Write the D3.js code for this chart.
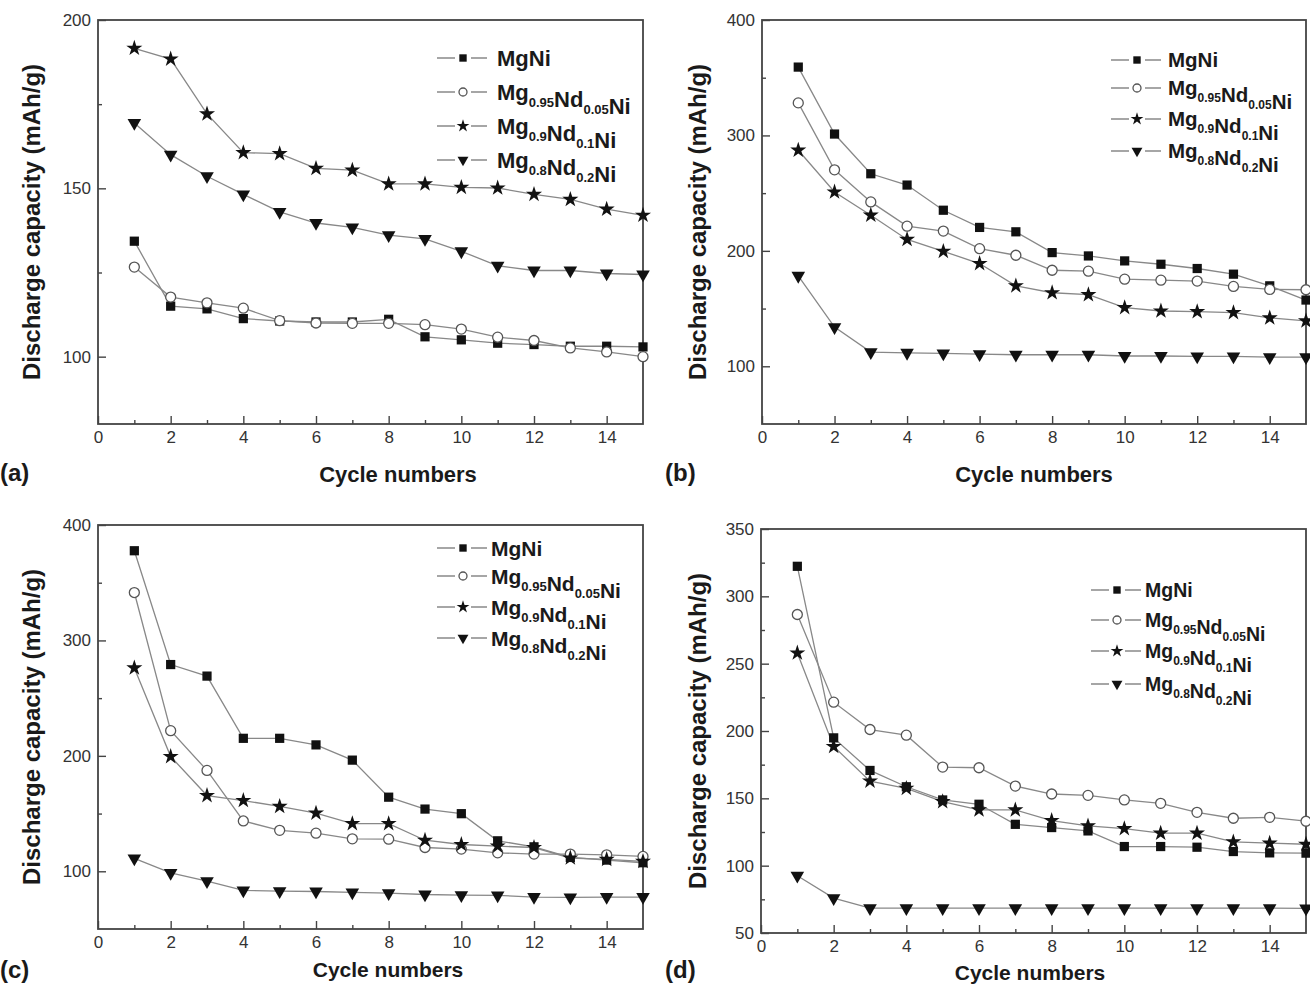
<!DOCTYPE html>
<html>
<head>
<meta charset="utf-8">
<script src="https://cdn.jsdelivr.net/npm/d3@7"></script>
<style>
  body { margin: 0; background: #fff; }
  svg { display: block; font-family: "Liberation Sans", Arial, sans-serif; }
</style>
</head>
<body>
<script>
// cycle number on x
var cycles = [1, 2, 3, 4, 5, 6, 7, 8, 9, 10, 11, 12, 13, 14, 15];
var xTicks = [0, 2, 4, 6, 8, 10, 12, 14];
var xMinor = [1, 3, 5, 7, 9, 11, 13];

// legend labels: [main, sub] parts
var seriesLabels = [
  [["MgNi", ""]],
  [["Mg", "0.95"], ["Nd", "0.05"], ["Ni", ""]],
  [["Mg", "0.9"], ["Nd", "0.1"], ["Ni", ""]],
  [["Mg", "0.8"], ["Nd", "0.2"], ["Ni", ""]]
];
var seriesSymbols = ["square", "circle", "star", "triangle"];

// (a)
var aMgNi = [134.3, 115.0, 114.2, 111.3, 110.6, 110.3, 110.3, 111.1, 105.9, 105.0, 104.0, 103.6, 103.1, 103.1, 102.9];
var aNd005 = [126.6, 117.7, 116.0, 114.4, 110.7, 110.0, 109.9, 109.9, 109.5, 108.2, 105.8, 104.8, 102.6, 101.4, 100.0];
var aNd01 = [191.6, 188.4, 172.1, 160.6, 160.3, 155.9, 155.4, 151.3, 151.3, 150.3, 150.1, 148.2, 146.7, 143.8, 142.0];
var aNd02 = [169.4, 160.0, 153.6, 148.2, 143.0, 139.7, 138.4, 136.1, 135.0, 131.3, 127.0, 125.6, 125.6, 124.7, 124.4];

// (b)
var bMgNi = [359.2, 301.2, 266.8, 257.0, 235.2, 220.3, 216.5, 198.5, 195.6, 191.3, 188.4, 184.7, 179.8, 169.7, 157.4];
var bNd005 = [328.2, 270.2, 242.4, 221.4, 217.1, 201.9, 196.2, 183.2, 182.4, 175.5, 174.6, 173.8, 169.2, 166.6, 166.3];
var bNd01 = [287.2, 251.0, 230.9, 209.9, 199.6, 189.0, 169.7, 163.7, 162.0, 150.8, 147.9, 147.3, 146.5, 141.9, 139.3];
var bNd02 = [178.4, 133.9, 112.3, 111.7, 111.2, 110.6, 110.0, 110.0, 110.0, 108.9, 108.9, 108.6, 108.6, 108.0, 108.0];

// (c)
var cMgNi = [377.7, 279.1, 269.1, 215.2, 215.2, 209.5, 196.3, 164.2, 153.9, 149.9, 126.4, 121.2, 112.0, 109.7, 107.4];
var cNd005 = [341.5, 221.8, 187.4, 143.6, 135.5, 133.0, 128.1, 127.8, 120.6, 119.2, 116.0, 114.9, 114.9, 114.3, 112.9];
var cNd01 = [276.2, 199.4, 165.6, 161.3, 156.2, 150.4, 141.3, 141.3, 126.9, 123.2, 121.8, 120.6, 111.5, 110.3, 108.6];
var cNd02 = [111.2, 98.6, 91.4, 83.4, 82.8, 82.5, 81.7, 81.1, 79.9, 79.4, 79.1, 77.7, 77.4, 77.7, 77.7];

// (d)
var dMgNi = [322.3, 194.9, 170.7, 158.6, 148.8, 145.6, 130.7, 128.3, 125.8, 114.2, 114.2, 113.7, 110.5, 109.5, 109.3];
var dNd005 = [286.5, 221.4, 201.1, 196.9, 173.2, 172.7, 159.1, 153.2, 152.2, 148.8, 146.3, 139.6, 135.2, 135.9, 133.0];
var dNd01 = [257.9, 188.5, 162.8, 157.4, 147.5, 141.4, 141.4, 133.5, 129.5, 127.5, 124.1, 124.1, 117.7, 116.7, 115.9];
var dNd02 = [92.5, 75.9, 68.5, 68.5, 68.5, 68.5, 68.5, 68.5, 68.5, 68.5, 68.5, 68.5, 68.5, 68.5, 68.3];

var W = 1310, H = 986;

var panels = [
  {tag: "(a)", series: [aMgNi, aNd005, aNd01, aNd02],
   box: {left: 98, right: 643, top: 20, bottom: 424},
   yDomain: [80, 200], yTicks: [100, 150, 200], yMinor: [125, 175],
   legend: {x: 463, text: 497, rows: [58, 92, 126, 160], size: 22},
   yTitleX: 31, xTitleX: 398, xTitleY: 482, xTitleSize: 22, tagX: 0, tagY: 481},
  {tag: "(b)", series: [bMgNi, bNd005, bNd01, bNd02],
   box: {left: 762, right: 1306, top: 20, bottom: 424},
   yDomain: [50, 400], yTicks: [100, 200, 300, 400], yMinor: [150, 250, 350],
   legend: {x: 1137, text: 1168, rows: [60, 88, 119, 151], size: 20.5},
   yTitleX: 697, xTitleX: 1034, xTitleY: 482, xTitleSize: 22, tagX: 665, tagY: 481},
  {tag: "(c)", series: [cMgNi, cNd005, cNd01, cNd02],
   box: {left: 98, right: 643, top: 525, bottom: 929},
   yDomain: [50, 400], yTicks: [100, 200, 300, 400], yMinor: [150, 250, 350],
   legend: {x: 463, text: 491, rows: [548, 576, 607, 638], size: 21},
   yTitleX: 31, xTitleX: 388, xTitleY: 977, xTitleSize: 21, tagX: 0, tagY: 978},
  {tag: "(d)", series: [dMgNi, dNd005, dNd01, dNd02],
   box: {left: 761, right: 1306, top: 529, bottom: 933},
   yDomain: [50, 350], yTicks: [50, 100, 150, 200, 250, 300, 350], yMinor: [75, 125, 175, 225, 275, 325],
   legend: {x: 1117, text: 1145, rows: [590, 620, 651, 684], size: 19.5},
   yTitleX: 697, xTitleX: 1030, xTitleY: 980, xTitleSize: 21, tagX: 665, tagY: 978}
];

var svg = d3.select("body").append("svg")
            .attr("width", W)
            .attr("height", H);

function drawSymbol(g, type, cx, cy, scale) {
  scale = scale || 1;
  if (type === "circle") {
    g.append("circle")
      .attr("cx", cx).attr("cy", cy).attr("r", 5 * scale)
      .attr("fill", "#fff").attr("stroke", "#555").attr("stroke-width", 1.3);
    return;
  }
  var sym = {square: d3.symbolSquare, star: d3.symbolStar, triangle: d3.symbolTriangle}[type];
  var size = {square: 85, star: 80, triangle: 80}[type] * scale * scale;
  var rot = type === "triangle" ? " rotate(180)" : "";
  g.append("path")
    .attr("d", d3.symbol().type(sym).size(size)())
    .attr("transform", "translate(" + cx + "," + cy + ")" + rot)
    .attr("fill", "#111");
}

function styleAxis(s) {
  s.select(".domain").remove();
  s.selectAll("line").attr("stroke", "#444").attr("stroke-width", 1.4);
  s.selectAll("text")
    .attr("font-family", "'Liberation Sans', Arial, sans-serif")
    .attr("font-size", 17)
    .attr("fill", "#333");
}

function plot(p) {
  var b = p.box;
  var x = d3.scaleLinear().domain([0, 15]).range([b.left, b.right]);
  var y = d3.scaleLinear().domain(p.yDomain).range([b.bottom, b.top]);

  var g = svg.append("g");

  // minor ticks
  g.append("g")
    .attr("transform", "translate(0," + b.bottom + ")")
    .call(d3.axisBottom(x).tickValues(xMinor).tickSize(-4).tickSizeOuter(0).tickFormat(""))
    .call(styleAxis);
  g.append("g")
    .attr("transform", "translate(" + b.left + ",0)")
    .call(d3.axisLeft(y).tickValues(p.yMinor).tickSize(-4).tickSizeOuter(0).tickFormat(""))
    .call(styleAxis);

  // major ticks + labels
  g.append("g")
    .attr("transform", "translate(0," + b.bottom + ")")
    .call(d3.axisBottom(x).tickValues(xTicks).tickSize(-8).tickSizeOuter(0).tickPadding(7))
    .call(styleAxis);
  g.append("g")
    .attr("transform", "translate(" + b.left + ",0)")
    .call(d3.axisLeft(y).tickValues(p.yTicks).tickSize(-8).tickSizeOuter(0).tickPadding(7))
    .call(styleAxis);

  // frame
  g.append("rect")
    .attr("x", b.left).attr("y", b.top)
    .attr("width", b.right - b.left).attr("height", b.bottom - b.top)
    .attr("fill", "none").attr("stroke", "#444").attr("stroke-width", 1.8);

  var line = d3.line()
    .x(function(d, i){ return x(cycles[i]); })
    .y(function(d){ return y(d); });

  // lines first, then markers on top
  p.series.forEach(function(vals){
    g.append("path")
      .datum(vals)
      .attr("d", line)
      .attr("fill", "none")
      .attr("stroke", "#888")
      .attr("stroke-width", 1.3);
  });
  p.series.forEach(function(vals, si){
    vals.forEach(function(v, i){
      drawSymbol(g, seriesSymbols[si], x(cycles[i]), y(v));
    });
  });

  // legend
  var fs = p.legend.size, sub = Math.round(fs * 0.6);
  var lg = g.append("g");
  seriesLabels.forEach(function(parts, si){
    var ry = p.legend.rows[si];
    lg.append("line")
      .attr("x1", p.legend.x - 26).attr("x2", p.legend.x + 24)
      .attr("y1", ry).attr("y2", ry)
      .attr("stroke", "#888").attr("stroke-width", 1.3);
    lg.append("rect")
      .attr("x", p.legend.x - 8).attr("y", ry - 5).attr("width", 16).attr("height", 10)
      .attr("fill", "#fff");
    drawSymbol(lg, seriesSymbols[si], p.legend.x, ry, 0.8);
    var t = lg.append("text")
      .attr("x", p.legend.text).attr("y", ry + fs * 0.36)
      .attr("font-size", fs).attr("font-weight", "bold").attr("fill", "#1a1a1a");
    parts.forEach(function(pt){
      t.append("tspan").text(pt[0]);
      if (pt[1]) {
        t.append("tspan").attr("font-size", sub).attr("dy", 7).text(pt[1]);
        t.append("tspan").attr("font-size", fs).attr("dy", -7).text("");
      }
    });
  });

  // titles
  g.append("text")
    .attr("transform", "translate(" + p.yTitleX + "," + ((b.top + b.bottom) / 2) + ") rotate(-90)")
    .attr("text-anchor", "middle")
    .attr("dominant-baseline", "central")
    .attr("font-size", 24).attr("font-weight", "bold").attr("fill", "#1a1a1a")
    .text("Discharge capacity (mAh/g)");

  g.append("text")
    .attr("x", p.xTitleX).attr("y", p.xTitleY)
    .attr("text-anchor", "middle")
    .attr("font-size", p.xTitleSize).attr("font-weight", "bold").attr("fill", "#1a1a1a")
    .text("Cycle numbers");

  g.append("text")
    .attr("x", p.tagX).attr("y", p.tagY)
    .attr("font-size", 24).attr("font-weight", "bold").attr("fill", "#1a1a1a")
    .text(p.tag);
}

panels.forEach(plot);
</script>
</body>
</html>
